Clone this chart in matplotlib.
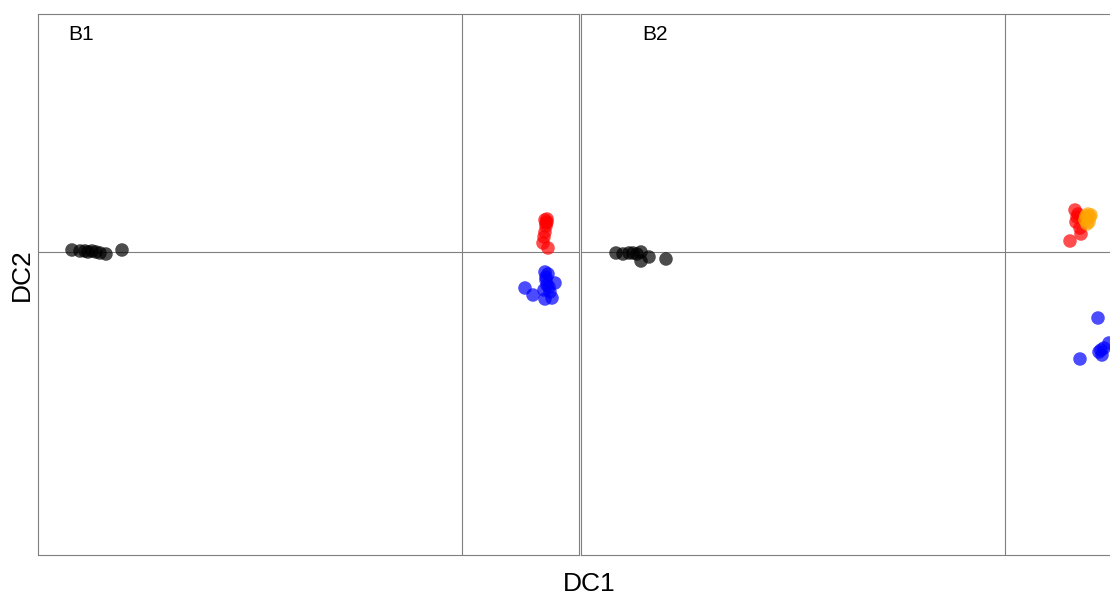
import matplotlib
matplotlib.use("Agg")
import matplotlib.pyplot as plt

plt.rcParams['font.family'] = ['Liberation Sans', 'DejaVu Sans']

# panel B1
b1_black_x = [-3.90, -3.82, -3.77, -3.74, -3.70, -3.66, -3.62, -3.56, -3.40]
b1_black_y = [0.02, 0.01, 0.01, 0.00, 0.01, 0.00, -0.01, -0.02, 0.02]
b1_red_x = [0.83, 0.85, 0.84, 0.83, 0.82, 0.81, 0.86, 0.85, 0.84]
b1_red_y = [0.32, 0.30, 0.26, 0.20, 0.15, 0.09, 0.04, 0.33, 0.29]
b1_blue_x = [0.63, 0.71, 0.83, 0.86, 0.84, 0.93, 0.82, 0.88, 0.83, 0.90, 0.85, 0.84, 0.87]
b1_blue_y = [-0.36, -0.43, -0.20, -0.22, -0.28, -0.31, -0.38, -0.40, -0.47, -0.46, -0.33, -0.25, -0.35]

# panel B2
b2_black_x = [-3.89, -3.82, -3.76, -3.72, -3.68, -3.64, -3.64, -3.56, -3.39]
b2_black_y = [-0.01, -0.02, -0.01, -0.01, -0.02, 0.00, -0.09, -0.05, -0.07]
b2_red_x = [0.70, 0.72, 0.75, 0.76, 0.65, 0.73, 0.71]
b2_red_y = [0.42, 0.35, 0.24, 0.18, 0.11, 0.38, 0.30]
b2_orange_x = [0.83, 0.85, 0.82, 0.80, 0.86, 0.84, 0.81]
b2_orange_y = [0.38, 0.35, 0.28, 0.32, 0.37, 0.30, 0.36]
b2_blue_x = [0.93, 0.75, 0.97, 0.94, 0.99, 1.04, 1.12, 0.96]
b2_blue_y = [-0.66, -1.07, -1.03, -1.00, -0.96, -0.91, -0.88, -0.98]

W, H = 1110, 596
fig = plt.figure(figsize=(W / 100, H / 100), dpi=100)

def panel(left, label, label_dx, groups):
    ax = fig.add_axes([left / W, (H - 555) / H, 541 / W, 541 / H])
    ax.axhline(0, color="#7f7f7f", lw=0.8, zorder=1)
    ax.axvline(0, color="#7f7f7f", lw=0.8, zorder=1)
    for xs, ys, c in groups:
        ax.scatter(xs, ys, s=95, color=c, alpha=0.7, edgecolors="none", zorder=3)
    ax.set_xlim(-4.24, 1.17)
    ax.set_ylim(-3.03, 2.38)
    ax.set_xticks([])
    ax.set_yticks([])
    for sp in ax.spines.values():
        sp.set_color("#7f7f7f")
        sp.set_linewidth(0.8)
    ax.text(label_dx / 541, 1 - 20 / 541, label, transform=ax.transAxes,
            fontsize=15, va="center", ha="left")
    return ax

panel(38, "B1", 30, [(b1_black_x, b1_black_y, "black"),
                     (b1_red_x, b1_red_y, "red"),
                     (b1_blue_x, b1_blue_y, "blue")])
panel(581, "B2", 61, [(b2_black_x, b2_black_y, "black"),
                      (b2_red_x, b2_red_y, "red"),
                      (b2_orange_x, b2_orange_y, "orange"),
                      (b2_blue_x, b2_blue_y, "blue")])

fig.text(589 / W, 1 - 584 / H, "DC1", ha="center", va="center", fontsize=19)
fig.text(22 / W, 1 - 275 / H, "DC2", ha="center", va="center", fontsize=19, rotation=90)

fig.savefig("out.png", dpi=100)
